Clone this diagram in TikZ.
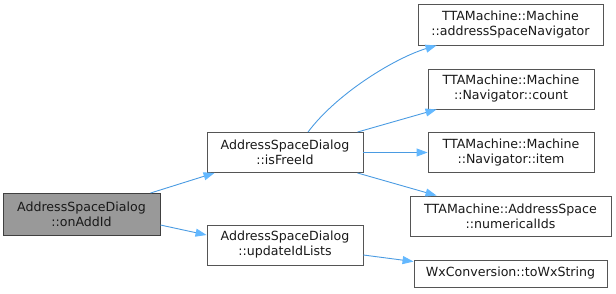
\documentclass[tikz,border=0pt]{standalone}
\usepackage{fontspec}
\setmainfont{DejaVu Sans}
\usetikzlibrary{arrows.meta,calc}
\definecolor{edgeblue}{HTML}{4A9BE2}
\definecolor{tipblue}{HTML}{63B8FF}
\definecolor{boxline}{HTML}{555555}
\definecolor{focusfill}{HTML}{999999}
\begin{document}
\begin{tikzpicture}[x=1pt,y=-1pt,
  fn/.style={draw=boxline,line width=0.9pt,fill=white,align=center,
    inner sep=0pt,font=\fontsize{12.6}{15}\selectfont,text=black!90},
  focus/.style={fn,fill=focusfill,draw=black!75},
  call/.style={draw=edgeblue,line width=0.9pt,
    -{Triangle[length=11pt,width=8pt,color=tipblue,fill=tipblue]}}]
\useasboundingbox (0,0) rectangle (616,293);

% functions
\node[focus,minimum width=157pt,minimum height=42pt] (add) at (81.5,214.5)
  {AddressSpaceDialog\\::onAddId};
\node[fn,minimum width=156pt,minimum height=40pt] (free) at (285,152.5)
  {AddressSpaceDialog\\::isFreeId};
\node[fn,minimum width=156pt,minimum height=40pt] (upd) at (285,245)
  {AddressSpaceDialog\\::updateIdLists};
\node[fn,minimum width=185pt,minimum height=41pt] (asn) at (510.5,24.5)
  {TTAMachine::Machine\\::addressSpaceNavigator};
\node[fn,minimum width=166pt,minimum height=40pt] (cnt) at (511,89)
  {TTAMachine::Machine\\::Navigator::count};
\node[fn,minimum width=166pt,minimum height=40pt] (itm) at (511,152.5)
  {TTAMachine::Machine\\::Navigator::item};
\node[fn,minimum width=201pt,minimum height=40pt] (num) at (510.5,216)
  {TTAMachine::AddressSpace\\::numericalIds};
\node[fn,minimum width=193pt,minimum height=27pt] (wx) at (510.5,273.5)
  {WxConversion::toWxString};

% calls
\draw[call] ($(add.north east)+(-10,0)$) -- ($(free.south west)+(8,0)$);
\draw[call] ($(add.east)+(0,10.5)$) -- ($(upd.west)+(0,-10)$);
\draw[call] ($(free.north)+(23,0)$) .. controls +(30,-40) and +(-40,12) ..
  ($(asn.south west)+(19,0)$);
\draw[call] ($(free.north east)+(-6,0)$) -- ($(cnt.south west)+(9,0)$);
\draw[call] (free.east) -- (itm.west);
\draw[call] ($(free.south east)+(-6,0)$) -- ($(num.north west)+(27,0)$);
\draw[call] ($(upd.east)+(0,10)$) -- ($(wx.north west)+(0,2)$);
\end{tikzpicture}
\end{document}
